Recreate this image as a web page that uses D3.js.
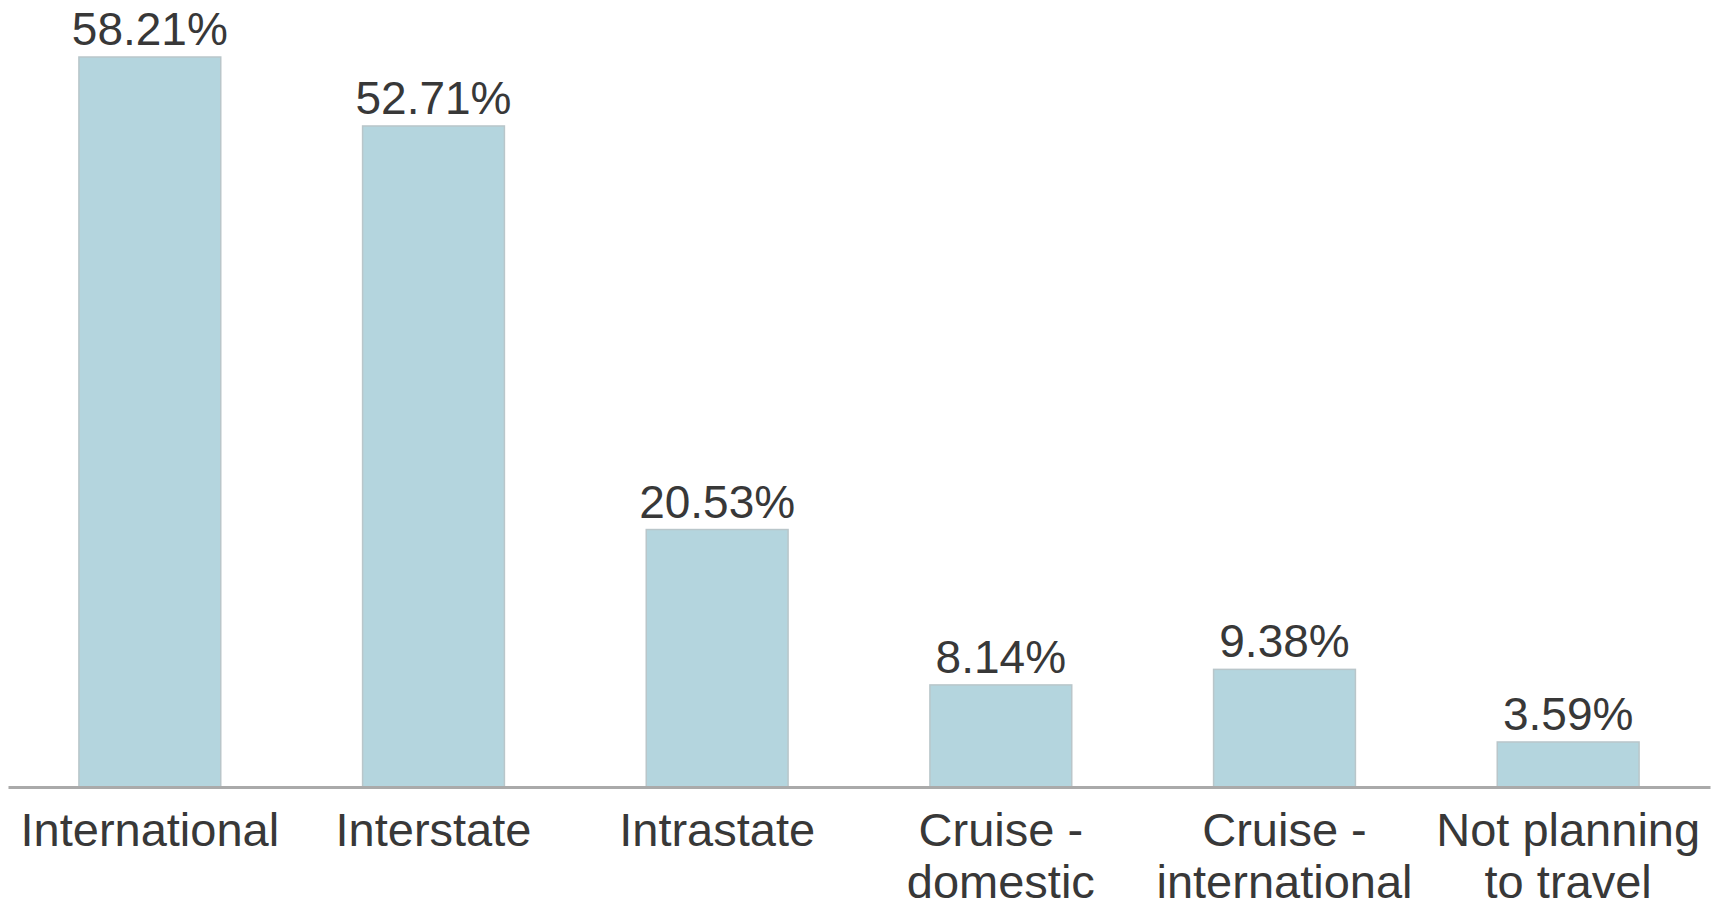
<!doctype html>
<html>
<head>
    <script src="https://d3js.org/d3.v7.min.js"></script>
    <style>
        body { margin: 0; background: #fff; }
        text { font-family: "Liberation Sans", Arial, sans-serif; fill: #383838; }
        .bar { fill: #b4d5de; stroke: #b9c6ca; stroke-width: 1.5; }
    </style>
</head>
<body>
    <svg width="1717" height="909"></svg>
    <script>
        // travel plans, share of respondents (%)
        var categories = ["International", "Interstate", "Intrastate", "Cruise - domestic", "Cruise - international", "Not planning to travel"];
        var values = [58.21, 52.71, 20.53, 8.14, 9.38, 3.59];
        // how category labels wrap onto lines
        var labelLines = [["International"], ["Interstate"], ["Intrastate"], ["Cruise -", "domestic"], ["Cruise -", "international"], ["Not planning", "to travel"]];

        var svg = d3.select("svg");
        var baseY = 787, topY = 57, left = 8, right = 1710;

        var x = d3.scaleBand().domain(categories).range([left, right]).paddingInner(0.5).paddingOuter(0.25);
        var y = d3.scaleLinear().domain([0, d3.max(values)]).range([baseY, topY]);

        var data = categories.map(function(c, i) { return {cat: c, value: values[i], lines: labelLines[i]}; });

        svg.selectAll(".bar")
            .data(data)
            .enter().append("rect")
            .attr("class", "bar")
            .attr("x", function(d) { return x(d.cat); })
            .attr("y", function(d) { return y(d.value); })
            .attr("width", x.bandwidth())
            .attr("height", function(d) { return baseY - y(d.value); });

        svg.selectAll(".val")
            .data(data)
            .enter().append("text")
            .attr("class", "val")
            .attr("x", function(d) { return x(d.cat) + x.bandwidth() / 2; })
            .attr("y", function(d) { return y(d.value) - 12; })
            .attr("text-anchor", "middle")
            .attr("font-size", "46px")
            .text(function(d) { return d.value.toFixed(2) + "%"; });

        // baseline axis
        var axis = svg.append("g").attr("transform", "translate(0," + baseY + ")")
            .call(d3.axisBottom(x).tickSize(0).tickFormat(""));
        axis.select(".domain").attr("stroke", "#aaa").attr("stroke-width", 3);

        var lab = svg.selectAll(".cat")
            .data(data)
            .enter().append("text")
            .attr("class", "cat")
            .attr("text-anchor", "middle")
            .attr("font-size", "47px")
            .attr("x", function(d) { return x(d.cat) + x.bandwidth() / 2; })
            .attr("y", 846);
        lab.selectAll("tspan")
            .data(function(d) { return d.lines.map(function(l) { return {t: l, cx: x(d.cat) + x.bandwidth() / 2}; }); })
            .enter().append("tspan")
            .attr("x", function(d) { return d.cx; })
            .attr("dy", function(d, i) { return i === 0 ? 0 : 52; })
            .text(function(d) { return d.t; });
    </script>
</body>
</html>
